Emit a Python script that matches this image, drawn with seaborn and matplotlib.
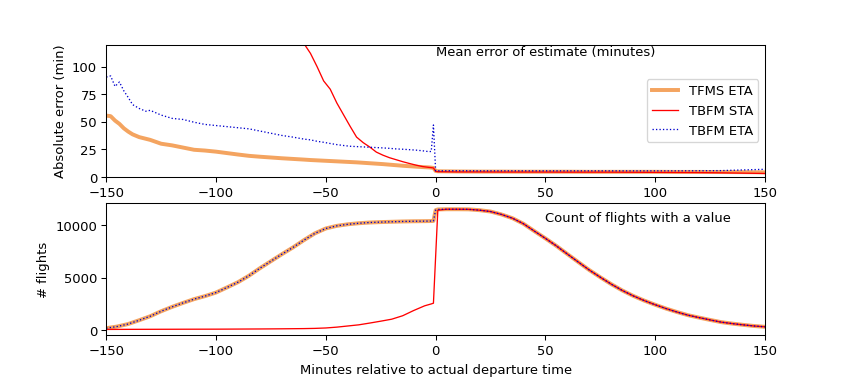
import matplotlib
matplotlib.use("Agg")
import matplotlib.pyplot as plt
import seaborn as sns
import numpy as np
import pandas as pd

# ---------------- Data: top panel (mean absolute error, minutes) ----------------
x_err = [-150, -148, -146, -144, -142, -140, -138, -135, -132, -130, -125, -120, -115, -110,
         -105, -100, -95, -90, -85, -80, -75, -70, -65, -60, -57, -54, -51, -48, -45, -42,
         -39, -36, -33, -30, -27, -24, -21, -18, -15, -12, -9, -6, -3, -2, -1, 0, 1,
         10, 20, 30, 40, 50, 60, 70, 80, 90, 100, 110, 120, 130, 140, 150]

tfms_eta_err = [55.5, 55, 51, 48, 44, 41, 38.5, 36, 34.5, 33.5, 30, 28.5, 26.5, 24.5,
                23.8, 22.8, 21.5, 20.2, 19, 18.2, 17.5, 16.8, 16.2, 15.6, 15.2, 14.9, 14.6, 14.3, 14, 13.7,
                13.4, 13.1, 12.7, 12.3, 11.9, 11.5, 11, 10.5, 10, 9.6, 9.2, 8.8, 8.5, 8.3, 8.0, 5.3, 5.0,
                4.8, 4.7, 4.7, 4.6, 4.6, 4.6, 4.5, 4.5, 4.5, 4.5, 4.4, 4.4, 4.3, 4.2, 4.0]

tbfm_sta_err = [np.nan, np.nan, np.nan, np.nan, np.nan, np.nan, np.nan, np.nan, np.nan, np.nan, np.nan, np.nan, np.nan, np.nan,
                np.nan, np.nan, np.nan, np.nan, np.nan, np.nan, np.nan, 150, 135, 121, 112, 100, 87, 79.5, 67, 56.5,
                46, 36, 31, 27, 22.4, 19.6, 17.3, 15.5, 13.7, 12.1, 10.6, 9.3, 8.5, 8.3, 8.0, 5.0, 4.6,
                4.4, 4.4, 4.3, 4.3, 4.3, 4.2, 4.2, 4.2, 4.1, 4.0, 3.9, 3.8, 3.6, 3.3, 3.0]

tbfm_eta_err = [90.5, 91.5, 82, 86, 78, 72, 65.5, 62, 59.5, 60.3, 56, 53, 52, 49.5,
                47.5, 46.5, 45.5, 44.5, 43.5, 41.5, 39.5, 37.5, 36, 34.2, 33.5, 32.2, 31.3, 30.2, 29.2, 28.4,
                27.7, 27.4, 27.1, 26.8, 26.5, 26.2, 25.8, 25.3, 25, 24.6, 24.2, 23.6, 22.8, 23, 47, 5.5, 5.4,
                5.5, 5.4, 5.4, 5.4, 5.4, 5.4, 5.4, 5.4, 5.4, 5.4, 5.4, 5.5, 5.6, 6.2, 6.8]

# ---------------- Data: bottom panel (count of flights) ----------------
x_cnt = [-150, -145, -140, -135, -130, -125, -120, -115, -110, -105, -100, -95, -90, -85, -80,
         -75, -70, -65, -60, -55, -50, -45, -40, -35, -30, -25, -20, -15, -10, -5, -2, -1, 0, 1,
         5, 10, 15, 20, 25, 30, 35, 40, 45, 50, 55, 60, 65, 70, 75, 80, 85, 90, 95, 100,
         105, 110, 115, 120, 125, 130, 135, 140, 145, 150]

tfms_eta_cnt = [160, 320, 560, 920, 1300, 1780, 2200, 2580, 2940, 3230, 3570, 4060, 4560, 5180, 5900,
                6570, 7240, 7880, 8580, 9230, 9700, 9950, 10100, 10200, 10270, 10310, 10340, 10370, 10390, 10400, 10410, 10420, 11450, 11520,
                11540, 11540, 11530, 11450, 11320, 11040, 10680, 10150, 9440, 8750, 8030, 7250, 6480, 5720, 5030, 4370, 3770, 3250, 2800, 2400,
                2030, 1700, 1400, 1170, 950, 740, 600, 480, 370, 290]

tbfm_sta_cnt = [40, 45, 48, 50, 52, 55, 57, 60, 62, 64, 66, 70, 75, 80, 85,
                92, 100, 110, 120, 140, 180, 260, 370, 480, 650, 830, 1020, 1350, 1850, 2300, 2480, 2550, 7000, 11450,
                11540, 11540, 11530, 11450, 11320, 11040, 10680, 10150, 9440, 8750, 8030, 7250, 6480, 5720, 5030, 4370, 3770, 3250, 2800, 2400,
                2030, 1700, 1400, 1170, 950, 740, 600, 480, 370, 290]

tbfm_eta_cnt = tfms_eta_cnt

series_labels = ["TFMS ETA", "TBFM STA", "TBFM ETA"]

# ---------------- Plot ----------------
fig, (ax1, ax2) = plt.subplots(2, 1, figsize=(9, 4), dpi=850 / 9)

c_orange = "sandybrown"
c_red = "red"
c_blue = "mediumblue"

df_err = pd.DataFrame({"x": x_err, "tfms": tfms_eta_err, "sta": tbfm_sta_err, "eta": tbfm_eta_err})
sns.lineplot(data=df_err, x="x", y="tfms", ax=ax1, color=c_orange, linewidth=3, label=series_labels[0])
sns.lineplot(data=df_err.dropna(subset=["sta"]), x="x", y="sta", ax=ax1, color=c_red, linewidth=1, label=series_labels[1])
sns.lineplot(data=df_err, x="x", y="eta", ax=ax1, color=c_blue, linewidth=1, linestyle=":", label=series_labels[2])
ax1.set_xlim(-150, 150)
ax1.set_ylim(0, 120)
ax1.set_xlabel("")
ax1.set_ylabel("Absolute error (min)")
ax1.legend(loc="center right")
ax1.text(0, 110, "Mean error of estimate (minutes)")

df_cnt = pd.DataFrame({"x": x_cnt, "tfms": tfms_eta_cnt, "sta": tbfm_sta_cnt, "eta": tbfm_eta_cnt})
sns.lineplot(data=df_cnt, x="x", y="tfms", ax=ax2, color=c_orange, linewidth=3)
sns.lineplot(data=df_cnt, x="x", y="sta", ax=ax2, color=c_red, linewidth=1)
sns.lineplot(data=df_cnt, x="x", y="eta", ax=ax2, color=c_blue, linewidth=1, linestyle=":")
ax2.set_xlim(-150, 150)
ax2.set_xlabel("Minutes relative to actual departure time")
ax2.set_ylabel("# flights")
ax2.text(50, 10400, "Count of flights with a value")

fig.savefig("out.png", dpi=850 / 9)
